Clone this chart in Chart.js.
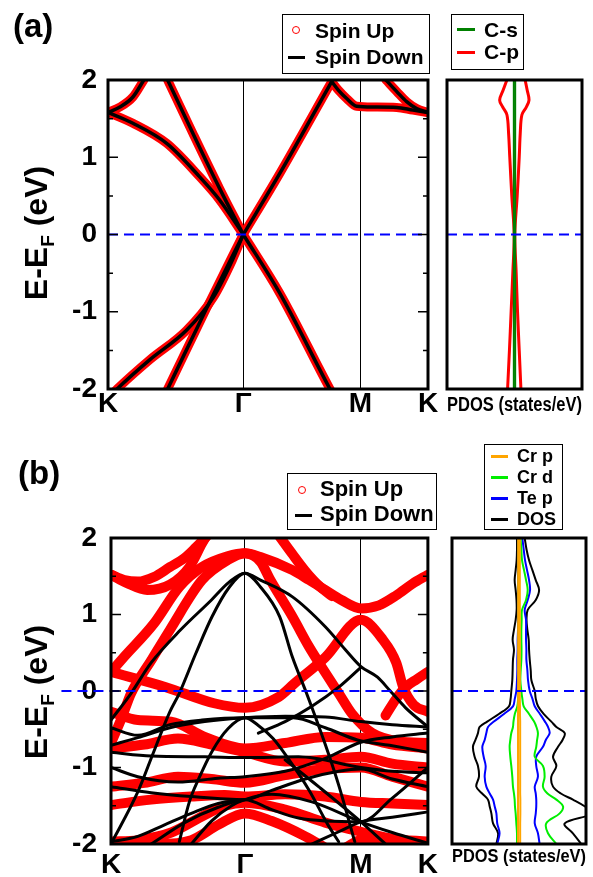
<!DOCTYPE html>
<html><head><meta charset="utf-8">
<script src="https://cdn.jsdelivr.net/npm/chart.js@4.4.1/dist/chart.umd.min.js"></script>
<style>
body{margin:0;background:#fff;width:593px;height:877px;position:relative;overflow:hidden;font-family:"Liberation Sans",Arial,sans-serif;font-weight:bold;color:#000}
canvas{position:absolute}
.t{position:absolute;white-space:nowrap;line-height:1}
.box{position:absolute;border:1.5px solid #000;box-sizing:border-box;background:#fff}
.ln{position:absolute;height:3px}
.circ{position:absolute;width:8px;height:8px;border:1.5px solid #f00;border-radius:50%;box-sizing:border-box}
.yt{position:absolute;white-space:nowrap;line-height:1;font-size:32px;transform:translate(-50%,-50%) rotate(-90deg)}
.yt sub{font-size:19px;vertical-align:-7px;line-height:0}
</style></head><body>
<canvas id="cA" width="440" height="430" style="left:0;top:0;width:440px;height:430px"></canvas>
<canvas id="cB" width="163" height="430" style="left:430px;top:0;width:163px;height:430px"></canvas>
<canvas id="cC" width="445" height="447" style="left:0;top:430px;width:445px;height:447px"></canvas>
<canvas id="cD" width="163" height="447" style="left:430px;top:430px;width:163px;height:447px"></canvas>

<div class="t" style="left:13px;top:9px;font-size:33px">(a)</div>
<div class="t" style="left:18px;top:456px;font-size:33px">(b)</div>
<div class="yt" style="left:36px;top:233px">E-E<sub>F</sub> (eV)</div>
<div class="yt" style="left:36px;top:692px">E-E<sub>F</sub> (eV)</div>

<div class="box" style="left:282px;top:14px;width:148px;height:60px"></div>
<div class="circ" style="left:292px;top:26px"></div>
<div class="t" style="left:315px;top:20px;font-size:21px">Spin Up</div>
<div class="ln" style="left:288px;top:56px;width:17px;background:#000"></div>
<div class="t" style="left:315px;top:46px;font-size:21px">Spin Down</div>

<div class="box" style="left:451px;top:14px;width:73px;height:56px"></div>
<div class="ln" style="left:457px;top:28px;width:18px;background:#008000"></div>
<div class="t" style="left:484px;top:19px;font-size:21px">C-s</div>
<div class="ln" style="left:457px;top:51px;width:18px;background:#f00"></div>
<div class="t" style="left:484px;top:41px;font-size:21px">C-p</div>

<div class="box" style="left:287px;top:473px;width:150px;height:57px"></div>
<div class="circ" style="left:298px;top:486px"></div>
<div class="t" style="left:320px;top:478px;font-size:22px">Spin Up</div>
<div class="ln" style="left:295px;top:514px;width:17px;background:#000"></div>
<div class="t" style="left:320px;top:503px;font-size:22px">Spin Down</div>

<div class="box" style="left:484px;top:444px;width:79px;height:86px"></div>
<div class="ln" style="left:491px;top:455px;width:17px;height:2.5px;background:#ffa500"></div>
<div class="t" style="left:517px;top:447px;font-size:18px">Cr p</div>
<div class="ln" style="left:491px;top:476px;width:17px;height:2.5px;background:#00ee00"></div>
<div class="t" style="left:517px;top:468px;font-size:18px">Cr d</div>
<div class="ln" style="left:491px;top:497px;width:17px;height:2.5px;background:#0000ff"></div>
<div class="t" style="left:517px;top:489px;font-size:18px">Te p</div>
<div class="ln" style="left:491px;top:518px;width:17px;height:2.5px;background:#000"></div>
<div class="t" style="left:517px;top:510px;font-size:18px">DOS</div>

<script>
// ---- axes / ticks ----
const kTicks = [0, 1, 1.866, 2.366];
const kLabels = ['K', 'Γ', 'M', 'K'];
const eMajor = [-2, -1, 0, 1, 2];
const eMinor = [-1.5, -0.5, 0.5, 1.5];

// ---- panel (a) bands [k, E] (spin up and spin down coincide) ----
const bandA1 = [[0,-2.12],[0.067,-2.0],[0.31,-1.62],[0.58,-1.24],[0.78,-0.81],[0.92,-0.33],[1.0,0.0]];
const bandA2 = [[1.0,0.0],[1.27,0.79],[1.654,1.98]];
const bandA3 = [[1.654,1.98],[1.703,1.87],[1.765,1.76],[1.839,1.66],[1.96,1.65],[2.135,1.645],[2.255,1.61],[2.366,1.58]];
const bandA4 = [[0,1.58],[0.184,1.44],[0.434,1.18],[0.676,0.75],[0.824,0.45],[1.0,0.0]];
const bandA5 = [[1.0,0.0],[1.27,-0.76],[1.641,-2.0],[1.66,-2.06]];
const bandA6 = [[0.441,2.0],[0.63,1.3],[0.824,0.6],[1.0,0.0]];
const bandA7 = [[0.441,-2.0],[0.73,-0.95],[1.0,0.0]];
const bandA8 = [[0,1.58],[0.088,1.65],[0.184,1.78],[0.265,2.0]];
const bandA9 = [[2.055,2.0],[2.135,1.85],[2.208,1.72],[2.282,1.63],[2.366,1.58]];
const spinUpA = [bandA1,bandA2,bandA3,bandA4,bandA5,bandA6,bandA7,bandA8,bandA9];
const spinDownA = [bandA1,bandA2,bandA3,bandA4,bandA5,bandA6,bandA7,bandA8,bandA9];

// ---- panel (a) PDOS ----
const ePa  = [2.0,1.87,1.74,1.65,1.55,1.31,1.0,0.5,0.0,-0.5,-1.0,-1.5,-2.0];
const cpUp = [0.63,0.75,0.86,0.7,0.44,0.34,0.28,0.16,0.02,0.1,0.18,0.28,0.38];
const cpDn = [-0.45,-0.67,-0.88,-0.7,-0.45,-0.35,-0.28,-0.16,-0.02,-0.1,-0.2,-0.3,-0.41];
const csUp = [0.04,0.04,0.04,0.04,0.04,0.04,0.04,0.04,0.04,0.04,0.04,0.04,0.04];
const csDn = [-0.04,-0.04,-0.04,-0.04,-0.04,-0.04,-0.04,-0.04,-0.04,-0.04,-0.04,-0.04,-0.04];

// ---- panel (b) spin up bands ----
const upB1 = [[0,1.52],[0.1,1.45],[0.2,1.43],[0.32,1.49],[0.44,1.62],[0.55,1.74],[0.63,1.87],[0.73,2.05]];
const upB2 = [[0,1.52],[0.12,1.41],[0.27,1.32],[0.44,1.39],[0.585,1.62],[0.68,1.93],[0.72,2.05]];
const upB3 = [[0,0.25],[0.1,0.45],[0.32,0.88],[0.51,1.36],[0.68,1.62],[0.87,1.76],[1.0,1.8],[1.116,1.75],[1.355,1.58],[1.48,1.45],[1.6,1.32],[1.72,1.19],[1.866,1.08],[2.0,1.12],[2.13,1.25],[2.25,1.4],[2.366,1.52]];
const upB4 = [[0,-0.68],[0.08,-0.35],[0.15,-0.03],[0.3,0.4],[0.44,0.8],[0.68,1.45],[0.87,1.71],[1.0,1.8],[1.116,1.69],[1.19,1.45],[1.355,0.97],[1.478,0.58],[1.6,0.24],[1.7,-0.03],[1.8,-0.3],[1.95,-0.55],[2.15,-0.66],[2.366,-0.68]];
const upB5 = [[1.246,2.05],[1.35,1.8],[1.45,1.57],[1.55,1.38],[1.65,1.24]];
const upB6 = [[0,0.25],[0.41,0.05],[0.77,-0.16],[1.0,-0.22],[1.25,-0.08],[1.37,0.1],[1.6,0.44],[1.866,0.93],[2.03,0.67],[2.13,0.37],[2.18,0.06],[2.26,-0.18],[2.366,-0.27]];
const upB7 = [[2.05,-0.32],[2.13,-0.1],[2.2,0.05],[2.28,0.15],[2.366,0.25]];
const upB8 = [[0,-0.27],[0.2,-0.38],[0.45,-0.4],[0.7,-0.6],[1.0,-0.75],[1.3,-0.68],[1.6,-0.6],[1.866,-0.61],[2.1,-0.7],[2.366,-0.75]];
const upB9 = [[0,-0.75],[0.25,-0.7],[0.5,-0.62],[0.75,-0.7],[1.0,-0.8],[1.3,-0.92],[1.6,-0.9],[1.866,-0.86],[2.1,-0.95],[2.366,-1.0]];
const upB10 = [[0,-1.25],[0.25,-1.2],[0.5,-1.12],[0.75,-1.15],[1.0,-1.2],[1.3,-1.1],[1.6,-1.02],[1.866,-1.0],[2.1,-1.12],[2.366,-1.25]];
const upB11 = [[0,-1.49],[0.3,-1.42],[0.6,-1.38],[0.85,-1.36],[1.0,-1.38],[1.3,-1.35],[1.6,-1.38],[1.866,-1.45],[2.1,-1.47],[2.366,-1.49]];
const upB12 = [[0,-1.97],[0.2,-1.95],[0.45,-1.85],[0.7,-1.62],[0.85,-1.5],[1.0,-1.46],[1.3,-1.55],[1.6,-1.72],[1.866,-1.84],[2.1,-1.93],[2.366,-1.97]];
const upB13 = [[0,-1.97],[0.35,-2.0],[0.6,-1.95],[0.8,-1.75],[1.0,-1.6],[1.2,-1.7],[1.45,-1.9],[1.6,-2.05]];
const upB14 = [[1.75,-2.05],[1.866,-1.95],[2.1,-1.99],[2.366,-1.97]];
const spinUpB = [upB1,upB2,upB3,upB4,upB5,upB6,upB7,upB8,upB9,upB10,upB11,upB12,upB13,upB14];

// ---- panel (b) spin down bands ----
const dnB1 = [[0,-0.38],[0.15,-0.03],[0.3,0.37],[0.52,0.8],[0.75,1.19],[0.88,1.42],[1.0,1.54],[1.116,1.45],[1.355,1.23],[1.6,0.84],[1.75,0.54],[1.866,0.32],[1.99,0.18],[2.08,0.01],[2.2,-0.22],[2.366,-0.47]];
const dnB2 = [[0,-2.0],[0.2,-1.32],[0.32,-0.79],[0.44,-0.27],[0.51,-0.03],[0.633,0.49],[0.754,0.97],[0.88,1.35],[1.0,1.54],[1.116,1.36],[1.26,0.97],[1.355,0.44],[1.46,-0.03],[1.6,-0.7],[1.7,-1.23],[1.82,-1.97]];
const dnB3 = [[0.51,-1.97],[0.585,-1.45],[0.657,-1.14],[0.754,-0.79],[0.875,-0.49],[1.0,-0.35],[1.1,-0.45],[1.21,-0.62],[1.33,-0.9],[1.48,-1.3],[1.62,-1.75],[1.7,-1.97]];
const dnB4 = [[0,-0.48],[0.2,-0.58],[0.44,-0.44],[0.68,-0.38],[1.0,-0.35],[1.36,-0.35],[1.6,-0.48],[1.84,-0.64],[2.08,-0.71],[2.366,-0.8]];
const dnB5 = [[0,-0.71],[0.2,-0.61],[0.44,-0.48],[0.7,-0.4],[1.0,-0.35],[1.3,-0.33],[1.6,-0.34],[1.866,-0.4],[2.1,-0.44],[2.366,-0.47]];
const dnB6 = [[1.1,-0.55],[1.3,-0.4],[1.5,-0.2],[1.7,0.05],[1.866,0.31]];
const dnB7 = [[0,-0.8],[0.3,-0.85],[0.7,-0.86],[1.0,-0.87],[1.4,-0.86],[1.866,-1.0],[2.1,-1.05],[2.366,-1.07]];
const dnB8 = [[0,-1.0],[0.2,-1.12],[0.5,-1.19],[0.8,-1.14],[1.0,-1.12],[1.3,-1.05],[1.6,-0.88],[1.866,-0.67],[2.1,-0.6],[2.366,-0.55]];
const dnB9 = [[0,-1.25],[0.3,-1.33],[0.6,-1.38],[1.0,-1.42],[1.2,-1.3],[1.45,-1.15],[1.7,-1.05],[1.866,-1.02],[2.1,-1.15],[2.366,-1.25]];
const dnB10 = [[0.3,-2.0],[0.55,-1.72],[0.8,-1.52],[1.0,-1.42],[1.2,-1.55],[1.4,-1.66],[1.866,-1.71],[2.1,-1.4],[2.366,-1.0]];
const dnB11 = [[0.6,-2.0],[0.75,-1.7],[0.9,-1.5],[1.0,-1.42],[1.2,-1.35],[1.5,-1.45],[1.866,-1.71],[2.1,-1.85],[2.366,-1.99]];
const dnB12 = [[1.5,-2.0],[1.7,-1.84],[1.866,-1.71],[2.1,-1.65],[2.366,-1.58]];
const dnB13 = [[0,-1.97],[0.2,-1.9],[0.4,-1.75],[0.6,-1.6],[0.8,-1.47],[1.0,-1.42]];
const dnB14 = [[1.3,-0.9],[1.55,-1.25],[1.866,-1.71],[2.05,-2.0]];
const spinDownB = [dnB1,dnB2,dnB3,dnB4,dnB5,dnB6,dnB7,dnB8,dnB9,dnB10,dnB11,dnB12,dnB13,dnB14];

// ---- panel (b) PDOS (right = spin up, left = spin down) ----
const ePb   = [2.0,1.85,1.71,1.58,1.45,1.32,1.19,1.06,0.93,0.8,0.67,0.54,0.41,0.27,0.14,0.0,-0.1,-0.2,-0.3,-0.4,-0.47,-0.55,-0.64,-0.73,-0.86,-0.98,-1.12,-1.25,-1.34,-1.42,-1.51,-1.6,-1.73,-1.86,-2.0];
const dosUp = [0.34,0.45,0.6,0.8,1.0,1.2,1.0,0.52,0.45,0.5,0.58,0.6,0.64,0.7,0.74,0.94,1.0,1.14,1.47,1.93,2.23,2.73,2.6,2.33,2.03,2.23,1.93,2.03,2.5,3.22,3.94,4.4,2.73,3.22,3.72];
const dosDn = [-0.12,-0.12,-0.14,-0.2,-0.26,-0.2,-0.15,-0.14,-0.2,-0.3,-0.38,-0.3,-0.36,-0.38,-0.4,-0.46,-0.5,-0.6,-1.2,-1.9,-2.35,-2.45,-2.6,-2.75,-2.65,-2.45,-2.39,-2.55,-2.2,-1.85,-1.75,-1.65,-1.55,-1.25,-1.35];
const tepUp = [0.2,0.28,0.36,0.48,0.6,0.66,0.52,0.34,0.42,0.42,0.42,0.44,0.44,0.5,0.54,0.64,0.8,0.94,1.25,1.55,1.73,1.83,1.6,1.43,1.03,1.03,1.13,0.94,1.0,1.03,1.03,1.0,0.94,1.13,1.23];
const tepDn = [-0.02,-0.02,-0.03,-0.05,-0.06,-0.05,-0.04,-0.03,-0.05,-0.06,-0.08,-0.08,-0.1,-0.1,-0.12,-0.16,-0.25,-0.36,-0.9,-1.5,-1.85,-1.95,-2.05,-2.19,-2.11,-1.99,-2.05,-1.95,-1.75,-1.55,-1.45,-1.35,-1.3,-1.16,-1.3];
const crdUp = [0.09,0.14,0.18,0.3,0.42,0.52,0.42,0.18,0.16,0.14,0.14,0.15,0.14,0.1,0.08,0.14,0.2,0.28,0.6,0.9,1.04,1.13,1.08,1.03,0.94,1.43,1.53,1.43,1.7,2.23,2.63,2.43,1.63,1.73,2.23];
const crdDn = [-0.02,-0.02,-0.02,-0.02,-0.03,-0.03,-0.02,-0.02,-0.02,-0.02,-0.02,-0.02,-0.02,-0.02,-0.02,-0.02,-0.05,-0.1,-0.25,-0.33,-0.36,-0.46,-0.52,-0.56,-0.52,-0.46,-0.4,-0.36,-0.3,-0.26,-0.24,-0.2,-0.16,-0.12,-0.12];
const crpUp = [0.05,0.05,0.05,0.05,0.05,0.05,0.05,0.05,0.05,0.05,0.05,0.05,0.05,0.05,0.05,0.05,0.05,0.06,0.06,0.07,0.07,0.07,0.07,0.07,0.07,0.07,0.07,0.07,0.07,0.08,0.08,0.08,0.07,0.07,0.07];
const crpDn = [-0.05,-0.05,-0.05,-0.05,-0.05,-0.05,-0.05,-0.05,-0.05,-0.05,-0.05,-0.05,-0.05,-0.05,-0.05,-0.05,-0.05,-0.05,-0.06,-0.06,-0.06,-0.06,-0.06,-0.06,-0.06,-0.06,-0.06,-0.06,-0.06,-0.06,-0.06,-0.06,-0.06,-0.06,-0.06];

// ---- helpers ----
const FAM = '"Liberation Sans", Arial, sans-serif';
Chart.defaults.font.family = FAM;
Chart.defaults.color = '#000';
const pairs = b => b.map(p => ({x: p[0], y: p[1]}));
const dosPts = (vals, es) => vals.map((v, i) => ({x: v, y: es[i]}));

const frameTicks = {
  id: 'frameTicks',
  afterDraw(chart, args, o) {
    const {ctx, chartArea: a} = chart;
    ctx.save();
    ctx.strokeStyle = '#000';
    if (o.ticks) {
      const ys = chart.scales.y;
      ctx.lineWidth = 1.5;
      ctx.beginPath();
      eMajor.forEach(v => { const p = ys.getPixelForValue(v);
        ctx.moveTo(a.left, p); ctx.lineTo(a.left + 10, p);
        ctx.moveTo(a.right, p); ctx.lineTo(a.right - 10, p); });
      eMinor.forEach(v => { const p = ys.getPixelForValue(v);
        ctx.moveTo(a.left, p); ctx.lineTo(a.left + 5, p);
        ctx.moveTo(a.right, p); ctx.lineTo(a.right - 5, p); });
      ctx.stroke();
    }
    ctx.lineWidth = o.width || 3;
    ctx.strokeRect(a.left, a.top, a.right - a.left, a.bottom - a.top);
    ctx.restore();
  }
};

function bandChart(id, up, dn, o) {
  const ds = [];
  up.forEach(b => ds.push({data: pairs(b), borderColor: '#ff0000', borderWidth: o.redW, order: 3,
    cubicInterpolationMode: 'monotone', borderCapStyle: 'round', borderJoinStyle: 'round', pointRadius: 0}));
  dn.forEach(b => ds.push({data: pairs(b), borderColor: '#000000', borderWidth: o.blackW, order: 2,
    cubicInterpolationMode: 'monotone', borderCapStyle: 'round', pointRadius: 0}));
  ds.push({data: [{x: o.fermiStart, y: 0}, {x: 2.366, y: 0}], borderColor: '#0000ff', borderWidth: 2,
    borderDash: [10, 6], order: 1, pointRadius: 0, clip: false});
  return new Chart(document.getElementById(id), {
    type: 'line',
    data: {datasets: ds},
    options: {
      responsive: false, animation: false, events: [],
      layout: {padding: o.pad},
      plugins: {legend: {display: false}, tooltip: {enabled: false}, frameTicks: {ticks: true, width: 3}},
      scales: {
        x: {type: 'linear', min: 0, max: 2.366,
          afterBuildTicks: s => { s.ticks = kTicks.map(v => ({value: v})); },
          afterFit: s => { s.height = o.xh; },
          ticks: {autoSkip: false, maxRotation: 0, padding: o.xpad, color: '#000',
            font: {family: FAM, size: 28, weight: 'bold', lineHeight: 1},
            callback: (v, i) => kLabels[i]},
          grid: {drawTicks: false, color: '#000', lineWidth: 1}, border: {display: false}},
        y: {type: 'linear', min: -2, max: 2,
          afterBuildTicks: s => { s.ticks = eMajor.map(v => ({value: v})); },
          afterFit: s => { s.width = o.yw; },
          ticks: {padding: o.ypad, color: '#000', font: {family: FAM, size: 28, weight: 'bold', lineHeight: 1}},
          grid: {display: false, drawTicks: false}, border: {display: false}}
      }
    },
    plugins: [frameTicks]
  });
}

function pdosChart(id, sets, o) {
  const ds = sets.map(s => ({data: s.d, borderColor: s.c, borderWidth: s.w, order: s.order,
    tension: 0.35, pointRadius: 0}));
  ds.push({data: [{x: -4, y: 0}, {x: 4, y: 0}], borderColor: '#0000ff', borderWidth: 2,
    borderDash: [10, 6], order: 0, pointRadius: 0});
  return new Chart(document.getElementById(id), {
    type: 'line',
    data: {datasets: ds},
    options: {
      responsive: false, animation: false, events: [],
      layout: {padding: o.pad},
      plugins: {legend: {display: false}, tooltip: {enabled: false}, frameTicks: {ticks: false, width: 3}},
      scales: {
        x: {type: 'linear', min: -4, max: 4,
          afterFit: s => { s.height = o.xh; },
          ticks: {display: false}, grid: {display: false}, border: {display: false},
          title: {display: true, text: 'PDOS (states/eV)', color: '#000',
            font: {family: FAM, size: o.ts, weight: 'bold'}, padding: {top: 0, bottom: o.tpad}}},
        y: {type: 'linear', min: -2, max: 2, display: false}
      }
    },
    plugins: [frameTicks]
  });
}

bandChart('cA', spinUpA, spinDownA, {redW: 9, blackW: 3.5, fermiStart: 0,
  pad: {left: 0, right: 12, top: 80, bottom: 0}, xh: 41, xpad: 1, yw: 108, ypad: 11});

pdosChart('cB', [
  {d: dosPts(cpUp, ePa), c: '#ff0000', w: 3, order: 2},
  {d: dosPts(cpDn, ePa), c: '#ff0000', w: 3, order: 2},
  {d: dosPts(csUp, ePa), c: '#008000', w: 2, order: 1},
  {d: dosPts(csDn, ePa), c: '#008000', w: 2, order: 1}
], {pad: {left: 17, right: 11, top: 80, bottom: 0}, xh: 41, ts: 20, tpad: 13});

bandChart('cC', spinUpB, spinDownB, {redW: 10, blackW: 3, fermiStart: -0.37,
  pad: {left: 0, right: 7, top: 108, bottom: 0}, xh: 33, xpad: 7, yw: 111, ypad: 14});

pdosChart('cD', [
  {d: dosPts(dosUp, ePb), c: '#000000', w: 2, order: 4},
  {d: dosPts(dosDn, ePb), c: '#000000', w: 2, order: 4},
  {d: dosPts(tepUp, ePb), c: '#0000ff', w: 2, order: 3},
  {d: dosPts(tepDn, ePb), c: '#0000ff', w: 2, order: 3},
  {d: dosPts(crdUp, ePb), c: '#00ee00', w: 2, order: 2},
  {d: dosPts(crdDn, ePb), c: '#00ee00', w: 2, order: 2},
  {d: dosPts(crpUp, ePb), c: '#ffa500', w: 2, order: 1},
  {d: dosPts(crpDn, ePb), c: '#ffa500', w: 2, order: 1}
], {pad: {left: 22, right: 7, top: 108, bottom: 0}, xh: 33, ts: 18.5, tpad: 9});
</script>
</body></html>
